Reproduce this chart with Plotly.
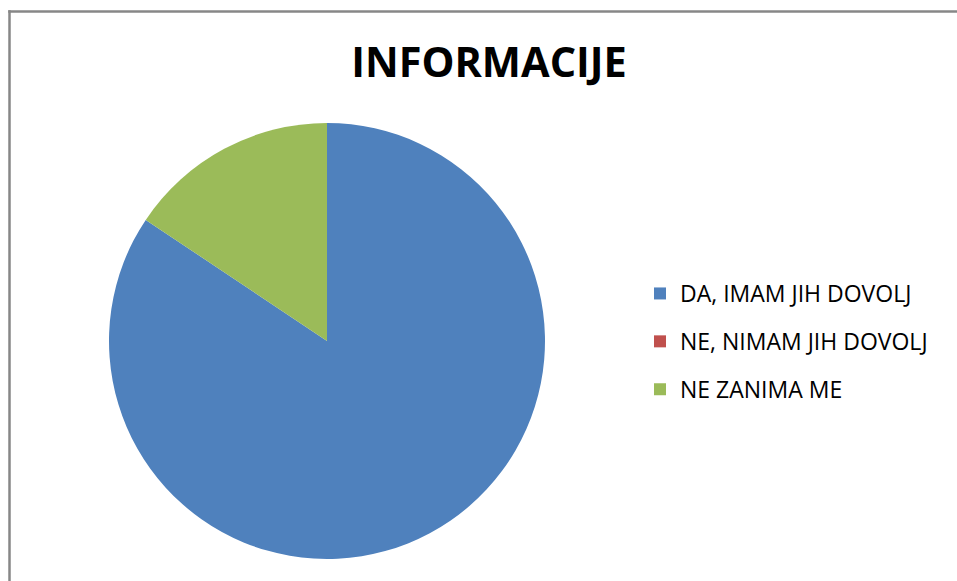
import plotly.graph_objects as go

W, H = 957, 581

labels = ["DA, IMAM JIH DOVOLJ", "NE, NIMAM JIH DOVOLJ", "NE ZANIMA ME"]
values = [27, 0, 5]
colors = ["#4F81BD", "#C0504D", "#9BBB59"]
title_text = "INFORMACIJE"

fig = go.Figure()

# pie geometry (pixels): center (327, 341), radius 218
cx, cy, r = 327, 341, 218
fig.add_trace(go.Pie(
    labels=labels, values=values, sort=False, direction="clockwise", rotation=0,
    marker=dict(colors=colors, line=dict(width=0)),
    textinfo="none", hoverinfo="label+value+percent", showlegend=False,
    domain=dict(x=[(cx - r) / W, (cx + r) / W], y=[1 - (cy + r) / H, 1 - (cy - r) / H]),
))

for i, (lab, col) in enumerate(zip(labels, colors)):
    fig.add_trace(go.Scatter(
        x=[None], y=[None], mode="markers", name=lab, legendgroup=f"g{i}",
        marker=dict(symbol="square", size=12, color=col),
        showlegend=True,
    ))

bx, by = 9.5 / W, 1 - 11.5 / H
border = dict(color="#878787", width=2.5)
fig.update_layout(
    width=W, height=H,
    margin=dict(l=0, r=0, t=0, b=0),
    paper_bgcolor="white", plot_bgcolor="white",
    xaxis=dict(visible=False), yaxis=dict(visible=False),
    font=dict(family="Open Sans, sans-serif", color="#000000"),
    title=dict(text=f"<b>{title_text}</b>", x=489 / W, xanchor="center",
               y=1 - 62 / H, yanchor="middle",
               font=dict(size=41.5, family="Open Sans, sans-serif", color="#000000")),
    legend=dict(x=640 / W, y=1 - 272 / H, xanchor="left", yanchor="top",
                font=dict(size=23, color="#000000"), tracegroupgap=15,
                bgcolor="rgba(0,0,0,0)", itemsizing="constant"),
    shapes=[
        dict(type="line", xref="paper", yref="paper", x0=bx, y0=0, x1=bx, y1=by + 1.25 / H, line=border),
        dict(type="line", xref="paper", yref="paper", x0=bx - 1.25 / W, y0=by, x1=1, y1=by, line=border),
    ],
)

fig.write_html(
    "out.html", config={"displayModeBar": False},
    post_script=("document.body.style.margin='0';document.body.style.overflow='hidden';"
                 "document.documentElement.style.overflow='hidden';"
                 "document.documentElement.style.margin='0';"),
)
